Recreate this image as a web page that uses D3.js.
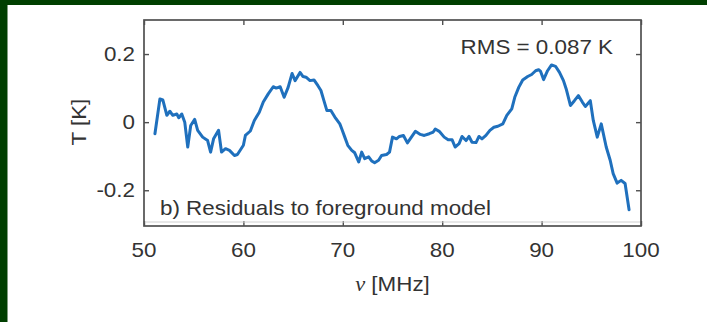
<!DOCTYPE html>
<html>
<head>
<meta charset="utf-8">
<script src="https://cdn.jsdelivr.net/npm/d3@7"></script>
<style>
  html, body { margin: 0; padding: 0; background: #fff; }
  svg { display: block; }
  text { font-family: "Liberation Sans", Arial, Helvetica, sans-serif; fill: #333; }
</style>
</head>
<body>
<svg id="chart" width="707" height="322"></svg>
<script>
// Residual spectrum: frequency (MHz) and temperature residual (K)
const freq = [51.1, 51.6, 51.9, 52.3, 52.6, 52.9, 53.3, 53.5, 53.8, 54.1, 54.4, 54.7, 55.1, 55.4, 55.9,
  56.4, 56.7, 57.0, 57.5, 57.8, 58.2, 58.6, 59.1, 59.4, 60.0, 60.2, 60.7, 61.1, 61.6, 62.0, 62.5, 63.0,
  63.3, 63.7, 64.1, 64.5, 64.9, 65.2, 65.7, 66.0, 66.3, 66.7, 67.1, 67.5, 67.8, 68.1, 68.4, 68.8, 69.2,
  69.7, 69.9, 70.2, 70.5, 70.9, 71.2, 71.6, 71.9, 72.2, 72.6, 72.9, 73.2, 73.6, 73.9, 74.4, 74.7, 75.0,
  75.4, 75.7, 76.1, 76.5, 76.9, 77.3, 77.8, 78.2, 78.7, 79.1, 79.3, 79.7, 80.2, 80.6, 81.0, 81.3, 81.7,
  82.0, 82.4, 82.7, 83.0, 83.4, 83.7, 84.0, 84.4, 84.8, 85.2, 85.6, 86.1, 86.5, 87.0, 87.3, 87.7, 88.1,
  88.6, 89.0, 89.4, 89.7, 89.9, 90.2, 90.6, 91.0, 91.4, 91.8, 92.2, 92.5, 92.9, 93.3, 93.7, 94.1, 94.4,
  94.9, 95.2, 95.6, 96.0, 96.5, 96.9, 97.2, 97.6, 98.0, 98.4, 98.8];
const resid = [-0.034, 0.068, 0.065, 0.020, 0.032, 0.020, 0.024, 0.013, 0.024, 0.000, -0.073, -0.010,
  0.008, -0.024, -0.044, -0.054, -0.088, -0.049, -0.024, -0.088, -0.078, -0.083, -0.098, -0.095, -0.068,
  -0.039, -0.026, 0.005, 0.029, 0.059, 0.083, 0.104, 0.100, 0.104, 0.073, 0.102, 0.143, 0.122, 0.146,
  0.134, 0.132, 0.122, 0.124, 0.107, 0.093, 0.063, 0.034, 0.034, 0.015, -0.005, -0.020, -0.044, -0.068,
  -0.083, -0.090, -0.117, -0.088, -0.107, -0.102, -0.114, -0.119, -0.112, -0.098, -0.095, -0.088, -0.044,
  -0.049, -0.042, -0.039, -0.061, -0.044, -0.027, -0.036, -0.039, -0.034, -0.029, -0.020, -0.027, -0.044,
  -0.052, -0.052, -0.073, -0.063, -0.042, -0.054, -0.042, -0.059, -0.060, -0.042, -0.049, -0.039, -0.024,
  -0.015, -0.012, -0.005, 0.020, 0.039, 0.073, 0.102, 0.124, 0.134, 0.140, 0.151, 0.154, 0.149, 0.125,
  0.151, 0.168, 0.164, 0.146, 0.122, 0.095, 0.049, 0.063, 0.078, 0.059, 0.046, 0.063, 0.005, -0.044,
  -0.005, -0.073, -0.112, -0.151, -0.179, -0.171, -0.180, -0.257];

const xTicks = [50, 60, 70, 80, 90, 100];
const yTicks = [-0.2, 0, 0.2];
const yTickLabels = ["-0.2", "0", "0.2"];
const xLabel = "[MHz]";
const yLabel = "T [K]";
const panelLabel = "b) Residuals to foreground model";
const rmsLabel = "RMS = 0.087 K";

const svg = d3.select("#chart");
const W = 707, H = 322;
const box = { left: 144, right: 641, top: 20, bottom: 226 };
const stretch = 1.12;   // glyphs are drawn slightly wide
const fs = 20;

// frame background
svg.append("rect").attr("width", W).attr("height", H).attr("fill", "#fff");
svg.append("rect").attr("x", 0).attr("y", 0).attr("width", W).attr("height", 5).attr("fill", "#003f00");
svg.append("rect").attr("x", 0).attr("y", 0).attr("width", 7.5).attr("height", H).attr("fill", "#003f00");

const x = d3.scaleLinear().domain([50, 100]).range([box.left, box.right]);
const y = d3.scaleLinear().domain([-0.305, 0.3]).range([box.bottom, box.top]);

const tickLen = 5;
const axisColor = "#505050";

// inward ticks on all four sides
const g = svg.append("g");
const addAxis = (axis, tx, ty) => {
  const a = g.append("g").attr("transform", `translate(${tx},${ty})`).call(axis);
  a.select(".domain").remove();
  a.selectAll("line").attr("stroke", axisColor).attr("stroke-width", 1.4);
  a.selectAll("text").remove();
  return a;
};
addAxis(d3.axisBottom(x).tickValues(xTicks).tickSize(-tickLen), 0, box.bottom);
addAxis(d3.axisTop(x).tickValues(xTicks).tickSize(-tickLen), 0, box.top);
addAxis(d3.axisLeft(y).tickValues(yTicks).tickSize(-tickLen), box.left, 0);
addAxis(d3.axisRight(y).tickValues(yTicks).tickSize(-tickLen), box.right, 0);

// faint inner baseline near the lower edge
svg.append("line")
  .attr("x1", box.left).attr("x2", box.right)
  .attr("y1", box.bottom - 4).attr("y2", box.bottom - 4)
  .attr("stroke", "#cfcfcf").attr("stroke-width", 1);

// residual curve
const line = d3.line().x((d, i) => x(freq[i])).y(d => y(d));
svg.append("path")
  .datum(resid)
  .attr("d", line)
  .attr("fill", "none")
  .attr("stroke", "#1f70bd")
  .attr("stroke-width", 3)
  .attr("stroke-linejoin", "round")
  .attr("stroke-linecap", "round");

// plot frame
svg.append("rect")
  .attr("x", box.left).attr("y", box.top)
  .attr("width", box.right - box.left).attr("height", box.bottom - box.top)
  .attr("fill", "none").attr("stroke", axisColor).attr("stroke-width", 1.7);

// helper for slightly widened text
function label(tx, ty, str, anchor, size) {
  return svg.append("text")
    .attr("transform", `translate(${tx},${ty}) scale(${stretch},1)`)
    .attr("text-anchor", anchor)
    .attr("font-size", size || fs)
    .text(str);
}

// tick labels
xTicks.forEach(v => label(x(v), 257, String(v), "middle"));
yTicks.forEach((v, i) => label(135, y(v) + 7, yTickLabels[i], "end"));

// axis titles
const xt = svg.append("text")
  .attr("transform", `translate(${x(75)},291) scale(${stretch},1)`)
  .attr("text-anchor", "middle")
  .attr("font-size", fs);
xt.append("tspan").attr("font-family", "'Liberation Serif', 'DejaVu Serif', serif").attr("font-style", "italic").text("\u03bd");
xt.append("tspan").text(" " + xLabel);

svg.append("text")
  .attr("transform", `translate(86,${y(0)}) rotate(-90) scale(${stretch},1)`)
  .attr("text-anchor", "middle")
  .attr("font-size", fs)
  .text(yLabel);

// annotations
label(613, 54, rmsLabel, "end");
label(160, 215, panelLabel, "start");
</script>
</body>
</html>
